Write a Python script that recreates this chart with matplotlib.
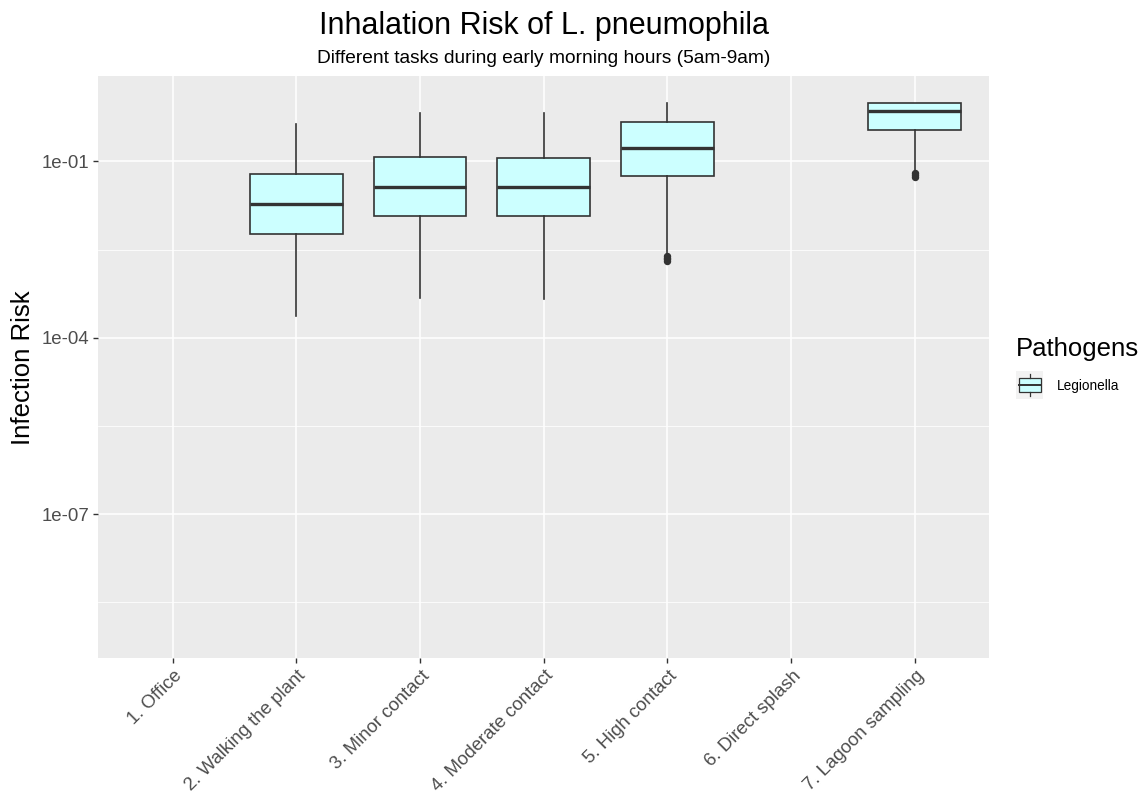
import matplotlib.pyplot as plt
from matplotlib.patches import Rectangle
from matplotlib.ticker import FixedLocator, NullFormatter
import matplotlib.transforms as mtransforms

plt.rcParams['font.family'] = ['Liberation Sans', 'DejaVu Sans']

tasks = ['1. Office', '2. Walking the plant', '3. Minor contact',
         '4. Moderate contact', '5. High contact', '6. Direct splash',
         '7. Lagoon sampling']

# box statistics for each task (None = no exposure for that task)
whisker_low = [None, 2.34e-4, 4.68e-4, 4.60e-4, 2.65e-3, None, 7.11e-2]
q1 = [None, 5.87e-3, 1.16e-2, 1.19e-2, 5.69e-2, None, 0.337]
median = [None, 1.88e-2, 3.70e-2, 3.61e-2, 0.170, None, 0.726]
q3 = [None, 6.08e-2, 0.117, 0.115, 0.466, None, 0.975]
whisker_high = [None, 0.426, 0.655, 0.655, 0.968, None, 0.980]
outliers = [[], [], [], [], [2.45e-3, 2.29e-3, 2.14e-3, 2.00e-3], [],
            [6.30e-2, 5.89e-2, 5.37e-2]]

ytick_vals = [1e-7, 1e-4, 1e-1]
ytick_labels = ['1e-07', '1e-04', '1e-01']
ygrid_minor = [10 ** -8.5, 10 ** -5.5, 10 ** -2.5]

fill = '#CCFFFF'
dark = '#333333'

fig = plt.figure(figsize=(11.46, 8), dpi=100)
ax = fig.add_axes([0.0858, 0.1771, 0.7772, 0.7279])

stats = []
positions = []
for i, task in enumerate(tasks):
    if median[i] is None:
        continue
    stats.append(dict(med=median[i], q1=q1[i], q3=q3[i],
                      whislo=whisker_low[i], whishi=whisker_high[i],
                      fliers=outliers[i], label=task))
    positions.append(i + 1)

ax.bxp(stats, positions=positions, widths=0.75, patch_artist=True,
       showcaps=False, manage_ticks=False,
       boxprops=dict(facecolor=fill, edgecolor=dark, linewidth=1.2),
       medianprops=dict(color=dark, linewidth=2.4, solid_capstyle='butt'),
       whiskerprops=dict(color=dark, linewidth=1.2),
       flierprops=dict(marker='o', markerfacecolor=dark,
                       markeredgecolor=dark, markersize=4.3))

ax.set_yscale('log')
ax.set_ylim(10 ** -9.45, 10 ** 0.45)
ax.set_xlim(0.4, 7.6)

ax.yaxis.set_major_locator(FixedLocator(ytick_vals))
ax.set_yticklabels(ytick_labels)
ax.yaxis.set_minor_locator(FixedLocator(ygrid_minor))
ax.yaxis.set_minor_formatter(NullFormatter())

ax.set_xticks(range(1, len(tasks) + 1))
ax.set_xticklabels(tasks, rotation=45, ha='right', va='top',
                   rotation_mode='anchor')

# ggplot-like grey panel
ax.set_facecolor('#EBEBEB')
ax.set_axisbelow(True)
ax.grid(which='major', color='white', linewidth=1.1)
ax.grid(which='minor', axis='y', color='white', linewidth=0.55)
for s in ax.spines.values():
    s.set_visible(False)
ax.tick_params(which='major', length=3.3, width=1.0, color=dark,
               labelcolor='#4D4D4D', labelsize=13.4, pad=3)
ax.tick_params(which='minor', length=0)

# nudge rotated x labels
offset = mtransforms.ScaledTranslation(0.01, 0, fig.dpi_scale_trans)
for lab in ax.get_xticklabels():
    lab.set_transform(lab.get_transform() + offset)

cx = 0.0858 + 0.7772 / 2
fig.text(cx, 0.958, 'Inhalation Risk of L. pneumophila', ha='center',
         va='baseline', fontsize=22)
fig.text(cx, 0.921, 'Different tasks during early morning hours (5am-9am)',
         ha='center', va='baseline', fontsize=13.8)
fig.text(0.0198, 0.541, 'Infection Risk', rotation=90, ha='center',
         va='center', fontsize=18.5)

# legend
fig.text(0.8866, 0.555, 'Pathogens', ha='left', va='baseline', fontsize=18.5)
key = fig.add_axes([0.8866, 0.5009, 0.0238, 0.0354])
key.set_facecolor('#F2F2F2')
key.set_xlim(0, 1)
key.set_ylim(0, 1)
key.set_xticks([])
key.set_yticks([])
for s in key.spines.values():
    s.set_visible(False)
key.plot([0.5, 0.5], [0.1, 0.25], color=dark, lw=0.9)
key.plot([0.5, 0.5], [0.75, 0.9], color=dark, lw=0.9)
key.add_patch(Rectangle((0.1, 0.25), 0.8, 0.5, facecolor=fill,
                        edgecolor=dark, lw=0.9))
key.plot([0.1, 0.9], [0.5, 0.5], color=dark, lw=1.4)
fig.text(0.9221, 0.513, 'Legionella', ha='left', va='baseline', fontsize=9.8)

fig.savefig('out.png', dpi=100)
